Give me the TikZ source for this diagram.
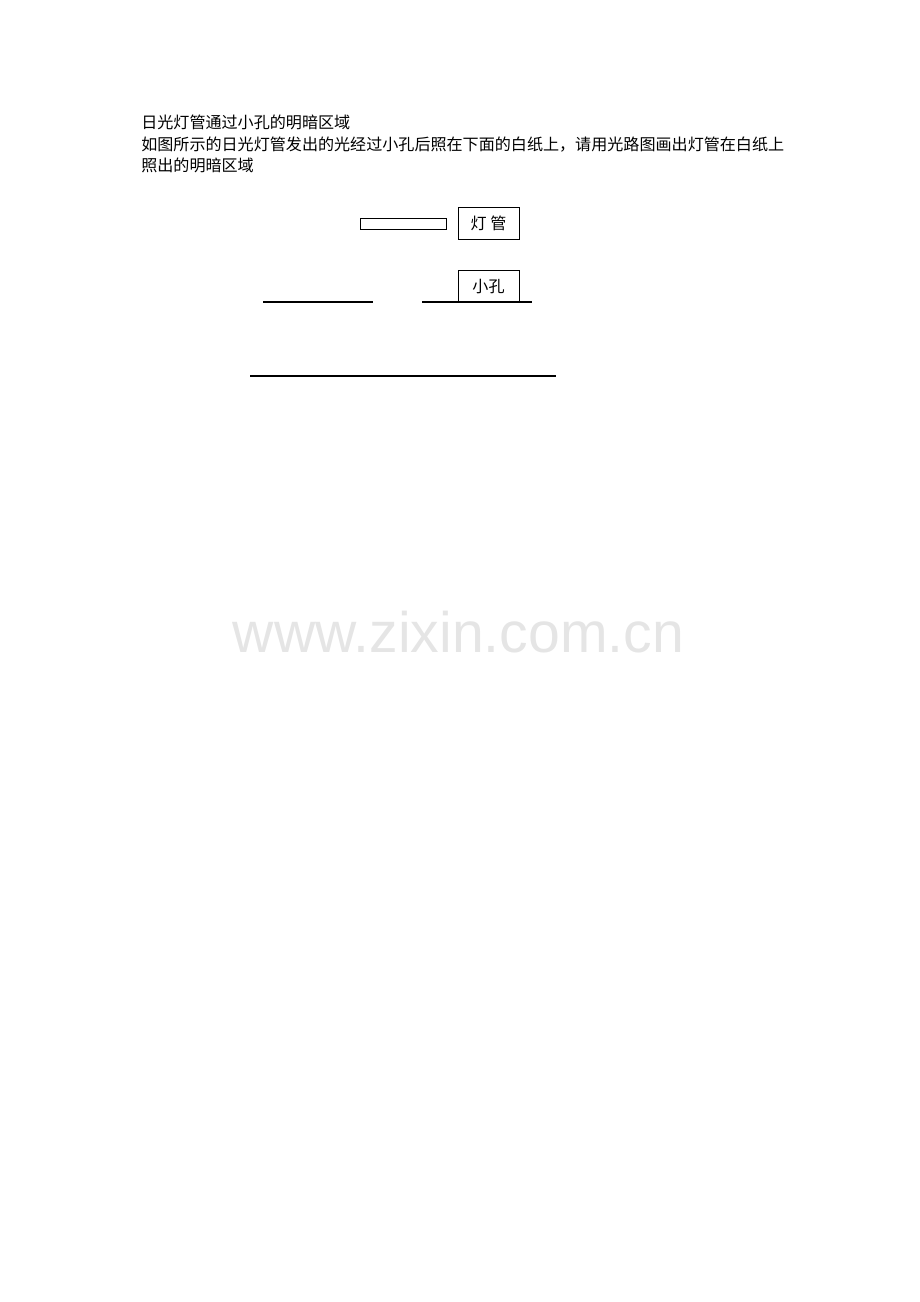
\documentclass[tikz,border=0pt]{standalone}
\usepackage{fontspec}
\setmainfont{Liberation Sans}
\newfontfamily\cjk{Noto Sans CJK SC}
\begin{document}
\begin{tikzpicture}[x=0.6471pt,y=-0.6471pt,
        txt/.style={font=\cjk\fontsize{10.4}{14}\selectfont,inner sep=0pt,anchor=base west},
        lbl/.style={draw,line width=0.6pt,font=\cjk\fontsize{10.4}{14}\selectfont,
            minimum width=39.5pt,minimum height=20.7pt,inner sep=0pt},
        wall/.style={line width=0.8pt}]
        \useasboundingbox (0,0) rectangle (920,1302);
        \node[txt] (title) at (141,128) {日光灯管通过小孔的明暗区域};
        \node[txt] (ask1) at (141,150) {如图所示的日光灯管发出的光经过小孔后照在下面的白纸上，请用光路图画出灯管在白纸上};
        \node[txt] (ask2) at (141,171) {照出的明暗区域};
        \node[font=\fontsize{37}{40}\selectfont,text=black!10,anchor=base,inner sep=0pt] (mark) at (458.5,652) {www.zixin.com.cn};
        \draw[line width=0.6pt] (360,218) rectangle (446,229);
        \node[lbl] (tube) at (488.5,223) {灯 管};
        \node[lbl] (hole) at (488.5,286.5) {小孔};
        \draw[wall] (263,302) -- (373,302);
        \draw[wall] (422,302) -- (532,302);
        \draw[wall] (250,376) -- (556,376);
    \end{tikzpicture}
\end{document}
